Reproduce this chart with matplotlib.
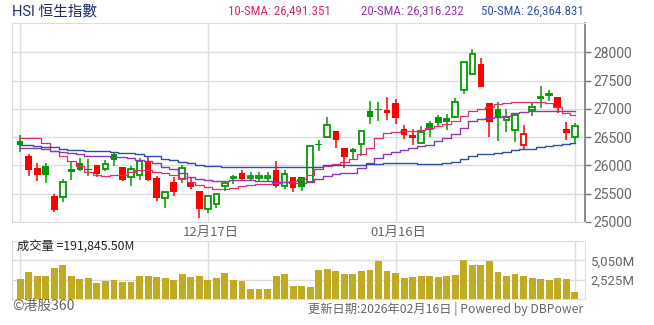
import matplotlib
matplotlib.use("Agg")
import matplotlib.pyplot as plt
import numpy as np

plt.rcParams['font.family'] = ['Roboto', 'Noto Sans CJK TC', 'DejaVu Sans']

# ---------------- data ----------------
PREV_CLOSE = 26300
opens = [26435, 26176, 25958, 25994, 25464, 25441, 25941, 26041, 25935, 26011,
         25935, 26194, 25976, 25794, 25823, 26064, 25776, 25417, 25711, 25758,
         25711, 25553, 25229, 25318, 25629, 25782, 25864, 25770, 25775, 25775,
         25923, 25629, 25794, 25800, 25706, 26375, 26505, 26617, 26311, 26288,
         26382, 26970, 27005, 26988, 27111, 26647, 26547, 26400, 26753, 26858,
         26841, 26858, 27335, 27623, 27799, 27111, 27000, 26800, 26623, 26365,
         26982, 27200, 27247, 27217, 26653, 26500]
highs = [26541, 26200, 26052, 26052, 25488, 25764, 26064, 26135, 26111, 26011,
         26088, 26241, 25976, 25994, 26135, 26147, 25806, 25529, 25794, 26011,
         25794, 25553, 25465, 25494, 25688, 25835, 25923, 25888, 25888, 25888,
         26082, 25923, 25794, 25800, 26347, 26458, 26858, 26617, 26311, 26306,
         26611, 27146, 27117, 27217, 27182, 26723, 26647, 26700, 26788, 26894,
         26911, 27194, 27829, 28058, 27899, 27111, 27123, 27000, 26935, 26723,
         27123, 27411, 27341, 27217, 26776, 26747]
lows = [26247, 25806, 25729, 25688, 25171, 25347, 25735, 25894, 25806, 25794,
        25894, 25982, 25717, 25629, 25747, 25717, 25365, 25241, 25453, 25688,
        25588, 25071, 25159, 25241, 25553, 25676, 25723, 25723, 25723, 25723,
        25600, 25588, 25535, 25547, 25706, 26253, 26505, 26306, 25953, 26106,
        26164, 26735, 26794, 26805, 26741, 26476, 26359, 26400, 26500, 26706,
        26623, 26835, 27258, 27605, 27382, 26500, 26429, 26588, 26412, 26282,
        26870, 27017, 27135, 26923, 26447, 26376]
closes = [26364, 25911, 25823, 25830, 25206, 25706, 25876, 25911, 25925, 25853,
          26029, 26088, 25747, 25935, 26076, 25747, 25417, 25529, 25523, 25964,
          25611, 25229, 25465, 25494, 25688, 25800, 25764, 25811, 25815, 25820,
          25629, 25847, 25606, 25618, 26347, 26355, 26717, 26447, 26147, 26241,
          26611, 26852, 26976, 26929, 26835, 26547, 26482, 26594, 26623, 26747,
          26764, 27123, 27829, 27970, 27382, 26764, 26853, 26860, 26894, 26559,
          27035, 27211, 27264, 27029, 26570, 26700]
volumes = [2612, 3526, 3004, 3004, 4048, 4440, 3004, 2612, 2742, 2089,
           2351, 2481, 2220, 2220, 3004, 3004, 2873, 2742, 2481, 3265,
           2873, 3004, 2481, 2742, 3395, 2481, 2351, 1306, 1306, 1306,
           3004, 3265, 1698, 1698, 1567, 3787, 3961, 3656, 3265, 3265,
           3656, 3787, 4962, 3656, 3395, 2742, 2873, 3004, 3004, 2873,
           3004, 3134, 5093, 4440, 4440, 4962, 3526, 3004, 3265, 3004,
           2742, 2612, 2481, 2742, 2612, 914]
sma10 = [26490, 26490, 26480, 26400, 26250, 26160, 26080, 25990, 25880, 25840,
         25820, 25830, 25840, 25890, 25925, 25920, 25890, 25860, 25830, 25780,
         25700, 25650, 25615, 25590, 25580, 25600, 25630, 25650, 25665, 25680,
         25688, 25700, 25720, 25760, 25840, 25930, 25990, 26020, 26070, 26120,
         26195, 26310, 26480, 26570, 26600, 26605, 26610, 26630, 26660, 26700,
         26725, 26780, 26880, 26960, 27005, 27030, 27080, 27100, 27115, 27125,
         27125, 27125, 27100, 27030, 26930, 26900]
sma20 = [26308, 26308, 26305, 26290, 26262, 26240, 26215, 26195, 26175, 26170,
         26165, 26150, 26143, 26130, 26105, 26080, 26045, 25980, 25930, 25870,
         25800, 25760, 25740, 25730, 25728, 25740, 25741, 25735, 25723, 25720,
         25712, 25705, 25690, 25690, 25715, 25760, 25810, 25845, 25860, 25870,
         25960, 26045, 26130, 26200, 26240, 26280, 26310, 26340, 26370, 26430,
         26490, 26560, 26665, 26780, 26823, 26845, 26860, 26870, 26925, 26950,
         26960, 26965, 26968, 26970, 26970, 26970]
sma50 = [26355, 26355, 26350, 26322, 26318, 26290, 26280, 26278, 26250, 26249,
         26248, 26240, 26220, 26220, 26195, 26175, 26160, 26120, 26100, 26060,
         26045, 26010, 25995, 25985, 25975, 25972, 25970, 25970, 25970, 25970,
         25970, 25970, 25965, 25975, 25975, 25980, 26000, 26002, 26002, 26005,
         26010, 26025, 26030, 26045, 26048, 26045, 26035, 26030, 26028, 26028,
         26045, 26070, 26120, 26160, 26200, 26210, 26220, 26235, 26265, 26285,
         26300, 26330, 26350, 26370, 26385, 26400]
date_ticks = {22: "12月17日", 44: "01月16日"}
price_ticks = [25000, 25500, 26000, 26500, 27000, 27500, 28000]
vol_ticks = [2525, 5050]
vol_tick_labels = ["2,525M", "5,050M"]
title = "HSI 恒生指數"
legend_items = [("10-SMA: 26,491.351", "#d9275d"),
                ("20-SMA: 26,316.232", "#9634b0"),
                ("50-SMA: 26,364.831", "#3553a8")]
vol_label = "成交量 =191,845.50M"
footer_left = "©港股360"
footer_right = "更新日期:2026年02月16日 | Powered by DBPower"

# ---------------- figure ----------------
W, H = 654, 325
fig = plt.figure(figsize=(W / 100, H / 100), dpi=100)
fig.patch.set_facecolor("white")

def fx(px):
    return px / W

def fy(py):
    return 1 - py / H

ax = fig.add_axes([fx(12), fy(222), fx(585 - 12), (222 - 23) / H])
axv = fig.add_axes([fx(12), fy(299), fx(585 - 12), (299 - 241) / H])

n = len(closes)
x = np.arange(n)
RED = "#ff0000"
GREEN = "#009a00"
GRID = "#dddddd"

prev = [PREV_CLOSE] + closes[:-1]
bw = 0.78
for i in range(n):
    o, h, l, c = opens[i], highs[i], lows[i], closes[i]
    col = GREEN if c >= prev[i] else RED
    hollow = c > o
    ax.vlines(i, l, h, color=col, linewidth=1.1, zorder=3)
    lo_b, hi_b = min(o, c), max(o, c)
    ht = max(hi_b - lo_b, 12)
    if hollow:
        ax.bar(i, ht, bottom=lo_b, width=bw - 0.12, facecolor="white",
               edgecolor=col, linewidth=1.3, zorder=4)
    else:
        ax.bar(i, ht, bottom=lo_b, width=bw, facecolor=col,
               edgecolor=col, linewidth=0.0, zorder=4)

ax.plot(x, sma10, color="#e0306a", lw=0.9, drawstyle="steps-mid", zorder=5)
ax.plot(x, sma20, color="#8e38b0", lw=1.0, drawstyle="steps-mid", zorder=5)
ax.plot(x, sma50, color="#2c4fa3", lw=1.0, drawstyle="steps-mid", zorder=5)

xl = (-0.95, 66.2)
ax.set_xlim(*xl)
ax.set_ylim(25000, 28520)
ax.set_yticks(price_ticks)
ax.set_yticklabels([str(t) for t in price_ticks])
ax.yaxis.tick_right()
ax.tick_params(axis="y", direction="out", length=4, width=1, color="#777777",
               labelcolor="#666666", labelsize=10, pad=2)
ax.set_xticks([])
for yv in price_ticks:
    ax.axhline(yv, color=GRID, lw=1.0, zorder=0)
for xv in [0, 22, 44, 65]:
    ax.axvline(xv, color=GRID, lw=1.0, zorder=0)
for s in ["left", "top", "bottom"]:
    ax.spines[s].set_color(GRID)
ax.spines["right"].set_color("#777777")
ax.spines["right"].set_linewidth(1.2)

# volume
axv.bar(x, volumes, width=0.8, color="#c2aa23", zorder=3)
axv.set_xlim(*xl)
axv.set_ylim(0, 7575)
axv.set_yticks(vol_ticks)
axv.set_yticklabels(vol_tick_labels)
axv.yaxis.tick_right()
axv.tick_params(axis="y", length=0, labelcolor="#666666", labelsize=9.5, pad=4)
axv.set_xticks([])
for yv in vol_ticks:
    axv.axhline(yv, color=GRID, lw=1.0, zorder=0)
for xv in [0, 22, 44, 65]:
    axv.axvline(xv, color=GRID, lw=1.0, zorder=0)
for s in axv.spines.values():
    s.set_color(GRID)

# date labels between panels
for k, lab in date_ticks.items():
    xpx = 20 + k * 8.54
    fig.text(fx(xpx + 3), fy(232), lab, ha="center", va="center",
             color="#666666", fontsize=9.5,
             family=['Noto Sans CJK TC', 'DejaVu Sans'])

fig.text(fx(12), fy(11), title, ha="left", va="center", color="#1f2d6b",
         fontsize=10.5, family=['Roboto', 'Noto Sans CJK TC'])
lx = [228, 361, 481]
for (t, c), xp in zip(legend_items, lx):
    fig.text(fx(xp), fy(11), t, ha="left", va="center", color=c, fontsize=9.3,
             family=['Roboto Condensed', 'Roboto'])

fig.text(fx(17), fy(247), vol_label, ha="left", va="center", color="#222222",
         fontsize=8.8, family=['Noto Sans CJK TC', 'DejaVu Sans'])
fig.text(fx(12), fy(306), footer_left, ha="left", va="center", color="#666666",
         fontsize=10, family=['Noto Sans CJK TC', 'DejaVu Sans'])
fig.text(fx(583), fy(309), footer_right, ha="right", va="center",
         color="#666666", fontsize=8.8, family=['Noto Sans CJK TC', 'DejaVu Sans'])

fig.savefig("out.png", dpi=100)
